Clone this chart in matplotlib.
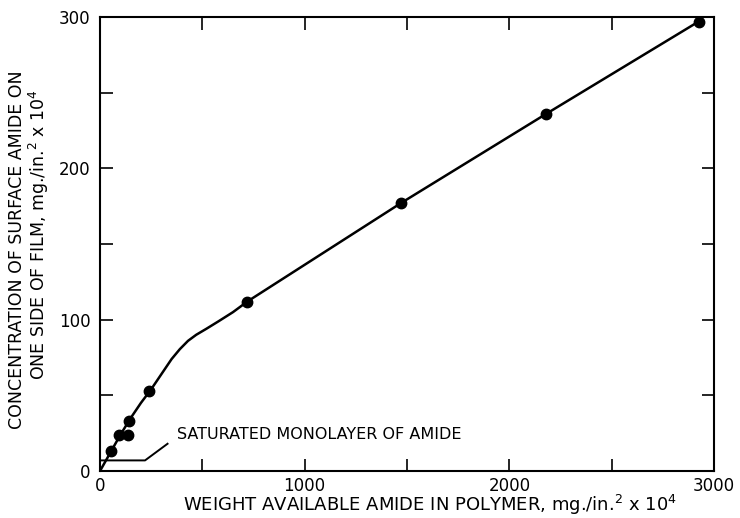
"""Surface amide concentration vs. available amide in polymer."""

import matplotlib

matplotlib.use("Agg")
import matplotlib.pyplot as plt

# measured points
amide_avail = [54, 93, 137, 142, 240, 720, 1470, 2180, 2925]
amide_surface = [13, 24, 24, 33, 53, 112, 177, 236, 297]

# drawn curve through the points
curve_x = [0, 50, 100, 150, 200, 250, 300, 350, 390, 430, 470, 520, 580, 650, 720, 1470, 2180, 2925]
curve_y = [0, 12, 24, 35, 45, 54, 64, 74, 80.5, 86, 90, 94, 99, 105, 112, 177, 236, 297]

# saturated monolayer leader line
mono_x = [0, 220, 330]
mono_y = [7, 7, 18]
mono_label = "SATURATED MONOLAYER OF AMIDE"

x_ticks = [0, 500, 1000, 1500, 2000, 2500, 3000]
x_ticklabels = ["0", "", "1000", "", "2000", "", "3000"]
y_ticks = [0, 50, 100, 150, 200, 250, 300]
y_ticklabels = ["0", "", "100", "", "200", "", "300"]

plt.rcParams["font.family"] = ["DejaVu Sans"]

fig = plt.figure(figsize=(7.4, 5.18), dpi=100)
ax = fig.add_axes([100 / 740, 1 - 471 / 518, 614 / 740, 454 / 518])

ax.plot(curve_x, curve_y, color="black", lw=1.8, zorder=2)
ax.plot(amide_avail, amide_surface, "o", color="black", ms=7.5, zorder=3)
ax.plot(mono_x, mono_y, color="black", lw=1.4)
ax.text(375, 24, mono_label, fontsize=11.5, va="center", ha="left")

ax.set_xlim(0, 3000)
ax.set_ylim(0, 300)
ax.set_xticks(x_ticks)
ax.set_xticklabels(x_ticklabels, fontsize=12)
ax.set_yticks(y_ticks)
ax.set_yticklabels(y_ticklabels, fontsize=12)
ax.tick_params(direction="in", length=9, width=1.2, top=True, right=True)
ax.tick_params(axis="x", pad=4)
ax.tick_params(axis="y", pad=7)
for sp in ax.spines.values():
    sp.set_linewidth(1.5)

fig.text(430 / 740, 1 - 505 / 518,
         r"WEIGHT AVAILABLE AMIDE IN POLYMER, mg./in.$^{2}$ x 10$^{4}$",
         fontsize=13, ha="center", va="center")
fig.text(17 / 740, 1 - 250 / 518, "CONCENTRATION OF SURFACE AMIDE ON",
         fontsize=12.5, rotation=90, ha="center", va="center")
fig.text(39 / 740, 1 - 235 / 518, r"ONE SIDE OF FILM, mg./in.$^{2}$ x 10$^{4}$",
         fontsize=12.5, rotation=90, ha="center", va="center")

fig.savefig("out.png", dpi=100)
